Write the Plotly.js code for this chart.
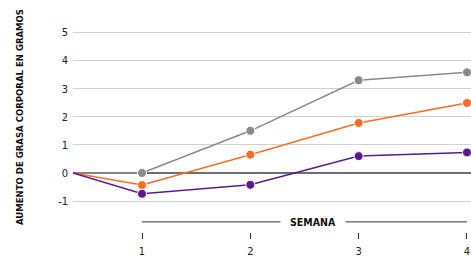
<!DOCTYPE html>
<html><head><meta charset="utf-8">
<script src="https://cdn.plot.ly/plotly-3.0.1.min.js"></script>
<style>html,body{margin:0;padding:0;background:#fff}#c{width:471px;height:259px}</style>
</head><body><div id="c"></div>
<script>
const weeks = [0.363, 1, 2, 3, 4];
const weekTicks = [1, 2, 3, 4];
const grayVals = [0, 0, 1.5, 3.3, 3.58];
const orangeVals = [0, -0.43, 0.65, 1.78, 2.49];
const purpleVals = [0, -0.74, -0.42, 0.6, 0.73];
const yTicks = [-1, 0, 1, 2, 3, 4, 5];
const xTitle = 'SEMANA';
const yTitle = 'AUMENTO DE GRASA CORPORAL EN GRAMOS';

const FONT = '"DejaVu Sans Condensed", "Liberation Sans Narrow", sans-serif';
function tr(y, color) {
  return {
    x: weeks, y: y, type: 'scatter', mode: 'lines+markers',
    line: {color: color, width: 1.5},
    marker: {color: color, size: [0, 9, 9, 9, 9], opacity: 1},
    hoverinfo: 'skip', cliponaxis: false
  };
}
const data = [tr(grayVals, '#8a8a8a'), tr(orangeVals, '#ff6b21'), tr(purpleVals, '#5b1a8e')];
const layout = {
  width: 471, height: 259,
  margin: {l: 73, r: 0, t: 24, b: 27},
  paper_bgcolor: '#fff', plot_bgcolor: '#fff',
  showlegend: false,
  font: {family: FONT, size: 11, color: '#222'},
  xaxis: {
    range: [0.363, 4.037], tickvals: weekTicks, ticktext: weekTicks.map(String),
    showgrid: false, zeroline: false, showline: false,
    ticks: 'outside', ticklen: 6, tickcolor: '#333', tickwidth: 1,
    ticklabelstandoff: 3,
    tickfont: {family: FONT, size: 11, color: '#222'}
  },
  yaxis: {
    range: [-2.1, 5.3], tickvals: yTicks, ticktext: yTicks.map(String),
    showgrid: true, gridcolor: '#d0d0d0', gridwidth: 1,
    zeroline: true, zerolinecolor: '#6e6e6e', zerolinewidth: 2,
    showline: false, ticks: '', ticklabelstandoff: 4,
    tickfont: {family: FONT, size: 11, color: '#222'},
    title: {text: ''}
  },
  shapes: [{type: 'line', xref: 'x', yref: 'y', x0: 1, x1: 4, y0: -1.74, y1: -1.74,
            line: {color: '#333', width: 1}}],
  annotations: [
    {text: '<b>' + xTitle + '</b>', xref: 'x', yref: 'y', x: 2.58, y: -1.74,
     showarrow: false, bgcolor: '#fff', borderpad: 9,
     font: {family: FONT, size: 10.5, color: '#111'}},
    {text: '<b>' + yTitle + '</b>', xref: 'paper', yref: 'paper', x: -0.133, y: 0.553,
     xanchor: 'center', yanchor: 'middle', textangle: -90, showarrow: false,
     font: {family: FONT, size: 9.5, color: '#111'}}
  ]
};
Plotly.newPlot('c', data, layout, {staticPlot: true, displayModeBar: false});
</script></body></html>
